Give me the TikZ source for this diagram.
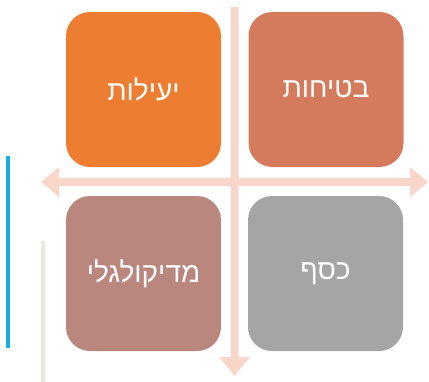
\documentclass[tikz,border=0pt]{standalone}
\usepackage{fontspec}
\newfontfamily\hebfont[Script=Hebrew]{Liberation Sans}
\TeXXeTstate=1
\definecolor{cOrange}{HTML}{ED7D31}
\definecolor{cRust}{HTML}{D37B5C}
\definecolor{cMauve}{HTML}{B9877E}
\definecolor{cGrey}{HTML}{A5A5A5}
\definecolor{cPink}{HTML}{F8D6CA}
\definecolor{cBlue}{HTML}{1AAEE5}
\definecolor{cBeige}{HTML}{E7ECDA}
\tikzset{
  quad/.style={rounded corners=18pt, minimum width=116.25pt, minimum height=116.25pt, inner sep=0pt, text=white, font=\hebfont\fontsize{21}{24}\selectfont},
  arrowshape/.style={fill=cPink, draw=none},
  sideline/.style={line width=3pt}
}
\begin{document}
\begin{tikzpicture}[x=0.75pt,y=-0.75pt]
\useasboundingbox (0,0) rectangle (429,382);
% cross arrows
\fill[arrowshape] (41,182) -- (59,167) -- (59,178) -- (410,178) -- (410,167) -- (428,182) -- (410,197) -- (410,186) -- (59,186) -- (59,197) -- cycle;
\fill[arrowshape] (230.5,7) -- (238.5,7) -- (238.5,357) -- (250,357) -- (234.5,376) -- (219,357) -- (230.5,357) -- cycle;
% quadrants
\node[quad, fill=cOrange] (eff) at (143.5,89.5) {\beginR יעילות\endR};
\node[quad, fill=cRust] (safe) at (326,89.5) {\beginR בטיחות\endR};
\node[quad, fill=cMauve] (med) at (143.5,273.5) {\beginR מדיקולגלי\endR};
\node[quad, fill=cGrey] (money) at (325.5,273.5) {\beginR כסף\endR};
% side lines
\coordinate (b1) at (8,156); \coordinate (b2) at (8,348);
\coordinate (g1) at (43,241); \coordinate (g2) at (43,382);
\draw[sideline, cBlue] (b1) -- (b2);
\draw[sideline, cBeige] (g1) -- (g2);
\end{tikzpicture}
\end{document}
